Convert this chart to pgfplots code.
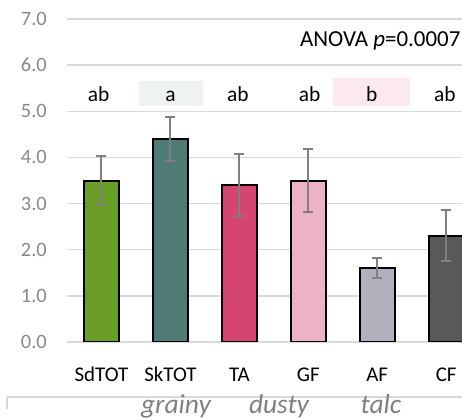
\documentclass[border=0pt]{standalone}
\usepackage{fontspec}
\setmainfont{Carlito}
\usepackage{pgfplots}
\pgfplotsset{compat=1.18}
\definecolor{cSd}{HTML}{6A9E28}
\definecolor{cSk}{HTML}{4F7B74}
\definecolor{cTA}{HTML}{D4466F}
\definecolor{cGF}{HTML}{EDB3C5}
\definecolor{cAF}{HTML}{B1B1BD}
\definecolor{cCF}{HTML}{595959}
\definecolor{gridgray}{HTML}{D9D9D9}
\definecolor{errgray}{HTML}{808080}
\definecolor{tickgray}{HTML}{898989}
\definecolor{boxA}{HTML}{EEF2F2}
\definecolor{boxB}{HTML}{FBE9EF}
\pgfplotsset{mybar/.style={fill=#1, draw=black, line width=2bp,
  error bars/.cd, y dir=both, y explicit,
  error bar style={color=errgray, line width=2bp},
  error mark options={rotate=90, mark size=5bp, line width=2bp, color=errgray}}}
\tikzset{lett/.style={anchor=base, font=\fontsize{21.5}{24}\selectfont, inner sep=0pt}}
\begin{document}
\begin{tikzpicture}
\begin{axis}[
  scale only axis, width=395bp, height=323bp,
  ymin=0, ymax=7, xmin=-0.5, xmax=5.23,
  ytick={0,1,...,7},
  yticklabels={0.0,1.0,2.0,3.0,4.0,5.0,6.0,7.0},
  ymajorgrids, grid style={color=gridgray, line width=1.4bp},
  axis line style={draw=none}, tick style={draw=none},
  xtick={0,1,2,3,4,5},
  xticklabels={SdTOT,SkTOT,TA,GF,AF,CF},
  xticklabel style={font=\fontsize{21}{24}\selectfont, text=black, anchor=base, inner sep=0pt, yshift=-35bp},
  yticklabel style={font=\fontsize{20.5}{24}\selectfont, text=tickgray, anchor=east, inner sep=0pt, xshift=-20bp},
  ybar, bar width=35bp, bar shift=0pt,
]
\addplot[mybar=cSd] coordinates {(0,3.5) +- (0,0.53)};
\addplot[mybar=cSk] coordinates {(1,4.4) +- (0,0.47)};
\addplot[mybar=cTA] coordinates {(2,3.4) +- (0,0.68)};
\addplot[mybar=cGF] coordinates {(3,3.5) +- (0,0.69)};
\addplot[mybar=cAF] coordinates {(4,1.6) +- (0,0.22)};
\addplot[mybar=cCF] coordinates {(5,2.3) +- (0,0.55)};
\fill[boxA] (axis cs:0.55,5.12) rectangle (axis cs:1.48,5.66);
\fill[boxB] (axis cs:3.36,5.12) rectangle (axis cs:4.48,5.73);
\node[lett] at (axis cs:-0.04,5.21) {ab};
\node[lett] at (axis cs:1,5.21) {a};
\node[lett] at (axis cs:1.98,5.21) {ab};
\node[lett] at (axis cs:3.02,5.21) {ab};
\node[lett] at (axis cs:3.92,5.21) {b};
\node[lett] at (axis cs:4.98,5.21) {ab};
\node[anchor=base east, font=\fontsize{23}{26}\selectfont, inner sep=0pt] at (axis cs:5.21,6.40) {ANOVA \textit{p}=0.0007};
\end{axis}
\draw[gridgray, line width=1.4bp] (-60bp,-55bp) -- (395bp,-55bp);
\draw[gridgray, line width=1.4bp] (-60bp,-55bp) -- (-60bp,-67bp);
\node[anchor=base, font=\fontsize{27.5}{30}\selectfont\itshape, text=errgray, inner sep=0pt] at (109bp,-71bp) {grainy};
\node[anchor=base, font=\fontsize{27.5}{30}\selectfont\itshape, text=errgray, inner sep=0pt] at (212bp,-71bp) {dusty};
\node[anchor=base, font=\fontsize{27.5}{30}\selectfont\itshape, text=errgray, inner sep=0pt] at (314bp,-71bp) {talc};
\pgfresetboundingbox
\path[use as bounding box] (-67bp,-77bp) rectangle (395bp,342bp);
\end{tikzpicture}
\end{document}
